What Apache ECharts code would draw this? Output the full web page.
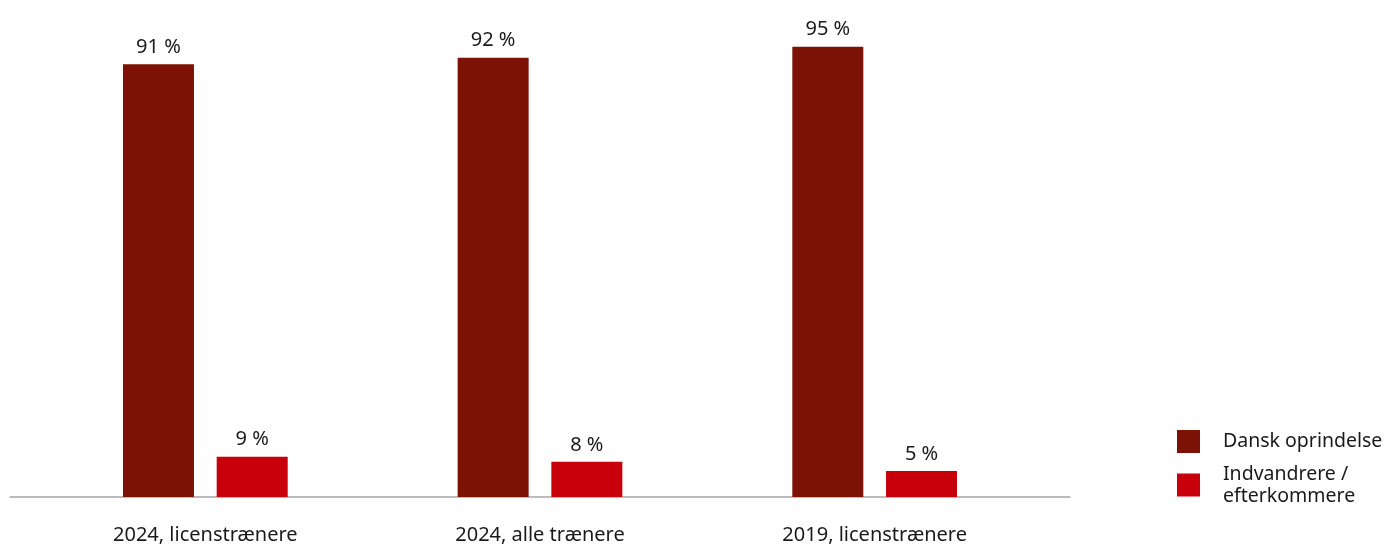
<!DOCTYPE html>
<html>
<head>
<meta charset="utf-8">
<script src="https://cdn.jsdelivr.net/npm/echarts@6/dist/echarts.min.js"></script>
<style>html,body{margin:0;padding:0;background:#fff}#c{width:1384px;height:545px}</style>
</head>
<body>
<div id="c"></div>
<script>
const categories = ['2024, licenstrænere', '2024, alle trænere', '2019, licenstrænere'];
const seriesNames = ['Dansk oprindelse', 'Indvandrere /\nefterkommere'];
const danskValues = [91.1, 92.5, 94.8];
const indvValues = [8.5, 7.4, 5.5];
const danskLabels = ['91 %', '92 %', '95 %'];
const indvLabels = ['9 %', '8 %', '5 %'];

const FONT = 'Noto Sans';
const TXT = '#1a1a1a';
const chart = echarts.init(document.getElementById('c'));
const labelCfg = (arr) => ({
  show: true, position: 'top', distance: 7,
  fontFamily: FONT, fontSize: 20, color: TXT,
  formatter: p => arr[p.dataIndex]
});
chart.setOption({
  animation: false,
  textStyle: { fontFamily: FONT },
  grid: [
    { left: 38, right: 342, top: 22, bottom: 48 },
    { left: 10, right: 314, top: 22, bottom: 48 }
  ],
  xAxis: [
    { type: 'category', gridIndex: 0, data: categories,
      axisLine: { show: false }, axisTick: { show: false },
      axisLabel: { fontFamily: FONT, fontSize: 20, color: TXT, margin: 28 } },
    { type: 'category', gridIndex: 1, data: categories,
      axisLine: { show: true, lineStyle: { color: '#a6a6a6', width: 1.5 } },
      axisTick: { show: false }, axisLabel: { show: false } }
  ],
  yAxis: [
    { type: 'value', gridIndex: 0, min: 0, max: 100, show: false },
    { type: 'value', gridIndex: 1, min: 0, max: 100, show: false }
  ],
  legend: [
    { data: [seriesNames[0]], orient: 'vertical', left: 1177, top: 430, padding: 0,
      itemWidth: 23, itemHeight: 23, icon: 'rect',
      textStyle: { fontFamily: FONT, fontSize: 19.5, color: TXT, padding: [0, 0, 0, 18] } },
    { data: [seriesNames[1]], orient: 'vertical', left: 1177, top: 463, padding: 0,
      itemWidth: 23, itemHeight: 23, icon: 'rect',
      textStyle: { fontFamily: FONT, fontSize: 19.5, color: TXT, lineHeight: 22, padding: [0, 0, 0, 18] } }
  ],
  series: [
    { name: seriesNames[0], type: 'bar', data: danskValues, barWidth: 71, barGap: '32%',
      itemStyle: { color: '#7d1206' }, label: labelCfg(danskLabels) },
    { name: seriesNames[1], type: 'bar', data: indvValues, barWidth: 71, barGap: '32%',
      itemStyle: { color: '#c8000b' }, label: labelCfg(indvLabels) }
  ]
});
</script>
</body>
</html>
